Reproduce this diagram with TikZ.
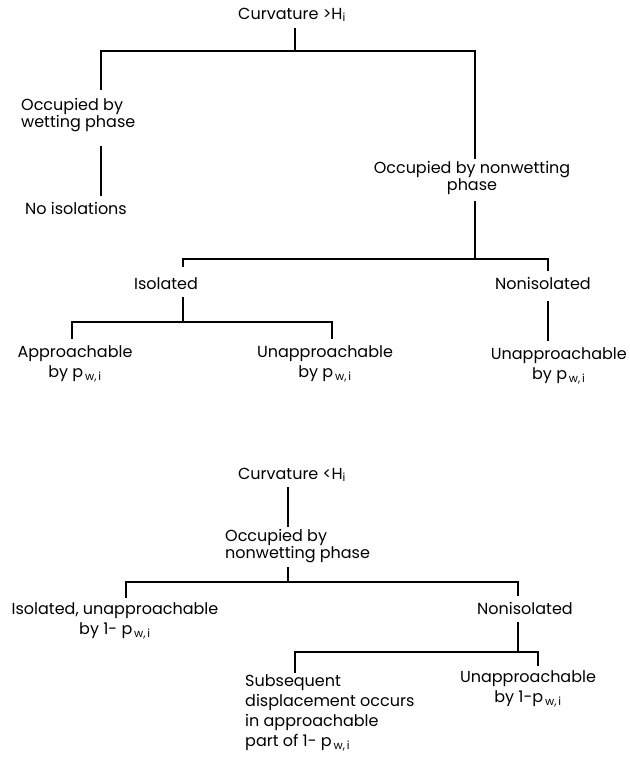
\documentclass[tikz,border=0pt]{standalone}
\usepackage{fontspec}
\setmainfont{Poppins}
\begin{document}
\begin{tikzpicture}[x=1pt,y=-1pt,
  lbl/.style={inner sep=0pt,font=\fontsize{16}{17}\selectfont},
  lbls/.style={inner sep=0pt,font=\fontsize{16}{20}\selectfont},
  conn/.style={line width=1.9pt,line cap=rect}]
\useasboundingbox (0,0) rectangle (629,759);
\newcommand{\pw}{p\textsubscript{\,w,\,i}}
% ---------- top tree ----------
\node[lbl] (c1) at (292,15) {Curvature >H\textsubscript{i}};
\node[lbl,align=left,anchor=west] (wet) at (21,115) {Occupied by\\wetting phase};
\node[lbl,anchor=west] (noiso) at (25,208) {No isolations};
\node[lbl,align=center] (nonwet) at (472,178) {Occupied by nonwetting\\phase};
\node[lbl] (iso) at (166,284) {Isolated};
\node[lbl] (noniso) at (543,283) {Nonisolated};
\node[lbls,align=center] (appr) at (75,364) {Approachable\\by \pw};
\node[lbls,align=center] (unap1) at (325,364) {Unapproachable\\by \pw};
\node[lbls,align=center,anchor=east] (unap2) at (627,366) {Unapproachable\\by \pw};
% junction points
\coordinate (c1d) at (295,29);
\coordinate (b1) at (295,51);
\coordinate (b1l) at (101,51);
\coordinate (b1r) at (475,51);
\coordinate (wetu) at (101,89);
\coordinate (wetd) at (101,147);
\coordinate (noisou) at (101,195);
\coordinate (nonwetu) at (475,158);
\coordinate (nonwetd) at (475,202);
\coordinate (b2) at (475,259);
\coordinate (b2l) at (183,259);
\coordinate (b2r) at (548,259);
\coordinate (isou) at (183,266);
\coordinate (nonisou) at (548,270);
\coordinate (isod) at (183,298);
\coordinate (b3) at (183,322);
\coordinate (b3l) at (72,322);
\coordinate (b3r) at (332,322);
\coordinate (appru) at (72,338);
\coordinate (unap1u) at (332,338);
\coordinate (nonisod) at (548,302);
\coordinate (unap2u) at (548,340);
\draw[conn] (c1d) -- (b1);
\draw[conn] (wetu) -- (b1l) -- (b1r) -- (nonwetu);
\draw[conn] (wetd) -- (noisou);
\draw[conn] (nonwetd) -- (b2);
\draw[conn] (isou) -- (b2l) -- (b2r) -- (nonisou);
\draw[conn] (isod) -- (b3);
\draw[conn] (appru) -- (b3l) -- (b3r) -- (unap1u);
\draw[conn] (nonisod) -- (unap2u);
% ---------- bottom tree ----------
\node[lbl] (c2) at (292,475) {Curvature <H\textsubscript{i}};
\node[lbl,align=left,anchor=west] (nonwet2) at (225,546) {Occupied by\\nonwetting phase};
\node[lbls,align=center] (isoun) at (115,621) {Isolated, unapproachable\\by 1- \pw};
\node[lbl] (noniso2) at (525,608) {Nonisolated};
\node[lbls,align=left,anchor=west] (subs) at (245,713) {Subsequent\\displacement occurs\\in approachable\\part of 1- \pw};
\node[lbls,align=center] (unap3) at (528,689) {Unapproachable\\by 1-\pw};
\coordinate (c2d) at (288,488);
\coordinate (nonwet2u) at (288,526);
\coordinate (nonwet2d) at (288,568);
\coordinate (b4) at (288,582);
\coordinate (b4l) at (126,582);
\coordinate (b4r) at (518,582);
\coordinate (isounu) at (126,597);
\coordinate (noniso2u) at (518,595);
\coordinate (noniso2d) at (518,623);
\coordinate (b5) at (518,652);
\coordinate (b5l) at (295,652);
\coordinate (b5r) at (538,652);
\coordinate (subsu) at (295,672);
\coordinate (unap3u) at (538,665);
\draw[conn] (c2d) -- (nonwet2u);
\draw[conn] (nonwet2d) -- (b4);
\draw[conn] (isounu) -- (b4l) -- (b4r) -- (noniso2u);
\draw[conn] (noniso2d) -- (b5);
\draw[conn] (subsu) -- (b5l) -- (b5r) -- (unap3u);
\end{tikzpicture}
\end{document}
